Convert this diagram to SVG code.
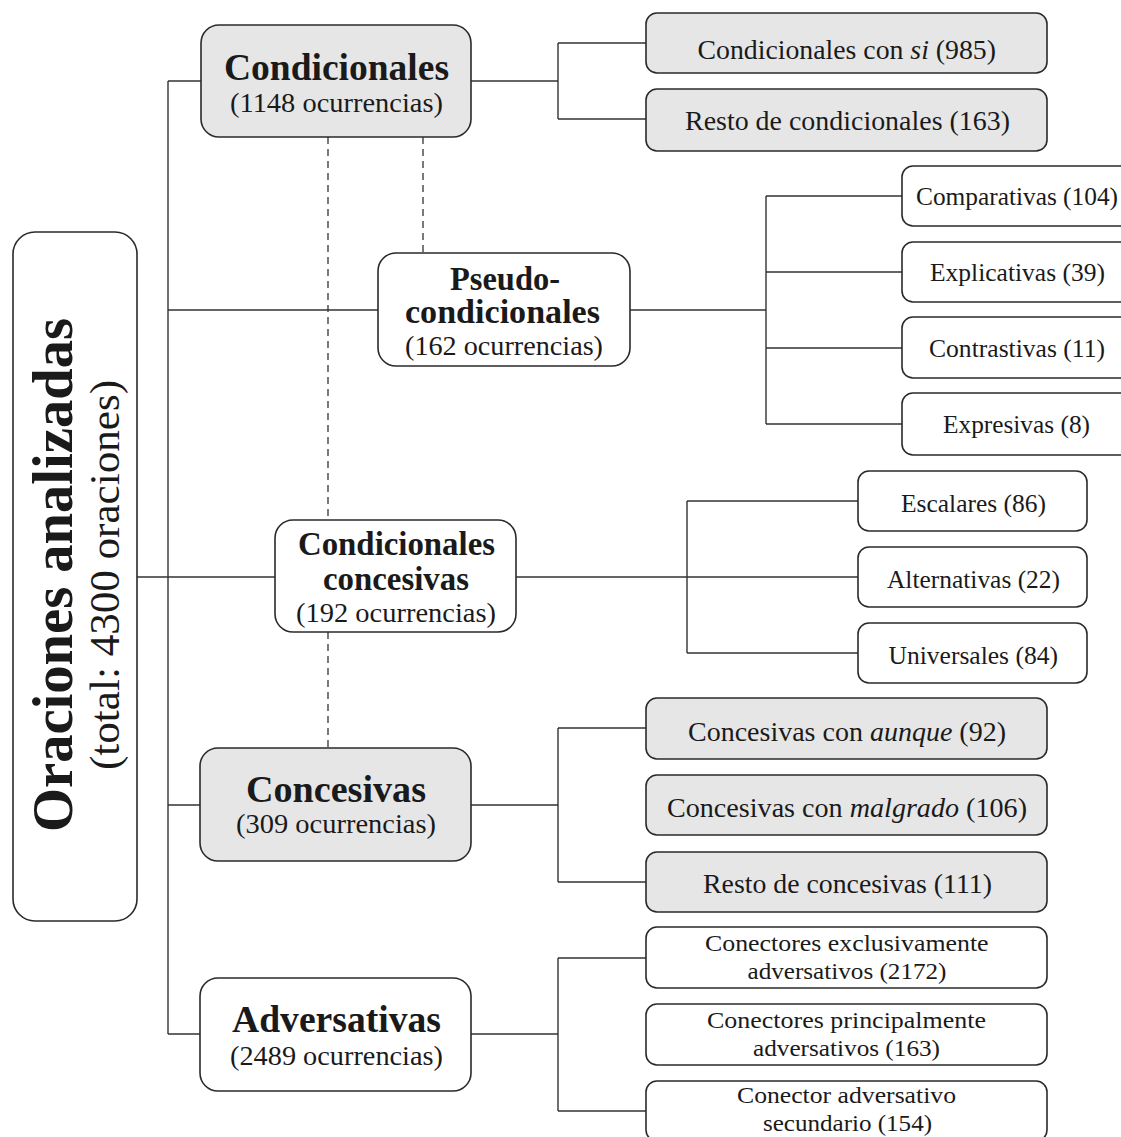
<svg xmlns="http://www.w3.org/2000/svg" width="1121" height="1137" viewBox="0 0 1121 1137">
<style>
.bx{stroke:#2a2a2a;stroke-width:1.6;fill:#fff}
.gr{fill:#e6e6e6}
.ln{stroke:#333;stroke-width:1.4;fill:none}
.ds{stroke:#333;stroke-width:1.3;fill:none;stroke-dasharray:7 5}
text{font-family:"Liberation Serif","Times New Roman",serif;fill:#1a1a1a}
.b{font-weight:bold}
.t1{font-size:37px}
.t2{font-size:33px}
.oc{font-size:28px}
.lg{font-size:28px}
.lw{font-size:25.5px}
.l2{font-size:24px}
.it{font-style:italic}
</style>
<rect width="1121" height="1137" fill="#fff"/>
<g id="connectors">
<path class="ln" d="M137 577H275M168 81V1034M168 81H201M168 310H378M168 805H200M168 1034H200"/>
<path class="ln" d="M471 81H558M558 43V119M558 43H646M558 119H646"/>
<path class="ln" d="M630 310H766M766 196V424M766 196H902M766 272H902M766 348H902M766 424H902"/>
<path class="ln" d="M516 577H858M687 501V653M687 501H858M687 653H858"/>
<path class="ln" d="M471 805H558M558 728V882M558 728H646M558 882H646"/>
<path class="ln" d="M471 1034H558M558 958V1111M558 958H646M558 1111H646"/>
<path class="ds" d="M328 137V520M328 632V748M423 137V253"/>
</g>
<g id="root">
<rect class="bx" x="13" y="232" width="124" height="689" rx="22"/>
<text class="b" font-size="57" transform="translate(72,832) rotate(-90)" textLength="514" lengthAdjust="spacingAndGlyphs">Oraciones analizadas</text>
<text font-size="42.5" transform="translate(119,770) rotate(-90)" textLength="390" lengthAdjust="spacingAndGlyphs">(total: 4300 oraciones)</text>
</g>
<g id="condicionales">
<rect class="bx gr" x="201" y="25" width="270" height="112" rx="18"/>
<text class="b t1" x="224" y="80" textLength="225" lengthAdjust="spacingAndGlyphs">Condicionales</text>
<text class="oc" x="230" y="112" textLength="213" lengthAdjust="spacingAndGlyphs">(1148 ocurrencias)</text>
</g>
<g id="pseudo">
<rect class="bx" x="378" y="253" width="252" height="113" rx="18"/>
<text class="b t2" x="450" y="290" textLength="110" lengthAdjust="spacingAndGlyphs">Pseudo-</text>
<text class="b t2" x="405" y="323" textLength="195" lengthAdjust="spacingAndGlyphs">condicionales</text>
<text class="oc" x="405" y="355" textLength="198" lengthAdjust="spacingAndGlyphs">(162 ocurrencias)</text>
</g>
<g id="cond-concesivas">
<rect class="bx" x="275" y="520" width="241" height="112" rx="18"/>
<text class="b t2" x="298" y="555" textLength="197" lengthAdjust="spacingAndGlyphs">Condicionales</text>
<text class="b t2" x="323" y="590" textLength="146" lengthAdjust="spacingAndGlyphs">concesivas</text>
<text class="oc" x="296" y="622" textLength="200" lengthAdjust="spacingAndGlyphs">(192 ocurrencias)</text>
</g>
<g id="concesivas">
<rect class="bx gr" x="200" y="748" width="271" height="113" rx="18"/>
<text class="b t1" x="246" y="802" textLength="180" lengthAdjust="spacingAndGlyphs">Concesivas</text>
<text class="oc" x="236" y="833" textLength="200" lengthAdjust="spacingAndGlyphs">(309 ocurrencias)</text>
</g>
<g id="adversativas">
<rect class="bx" x="200" y="978" width="271" height="113" rx="18"/>
<text class="b t1" x="232" y="1032" textLength="209" lengthAdjust="spacingAndGlyphs">Adversativas</text>
<text class="oc" x="230" y="1065" textLength="213" lengthAdjust="spacingAndGlyphs">(2489 ocurrencias)</text>
</g>
<g id="cond-si">
<rect class="bx gr" x="646" y="13" width="401" height="60" rx="11"/>
<text class="lg" x="697.5" y="59" textLength="298.5" lengthAdjust="spacingAndGlyphs">Condicionales con <tspan class="it">si</tspan> (985)</text>
</g>
<g id="cond-resto">
<rect class="bx gr" x="646" y="89" width="401" height="62" rx="11"/>
<text class="lg" x="685" y="130" textLength="325" lengthAdjust="spacingAndGlyphs">Resto de condicionales (163)</text>
</g>
<g id="comparativas">
<rect class="bx" x="902" y="166" width="232" height="60" rx="11"/>
<text class="lw" x="916" y="205" textLength="202" lengthAdjust="spacingAndGlyphs">Comparativas (104)</text>
</g>
<g id="explicativas">
<rect class="bx" x="902" y="242" width="232" height="60" rx="11"/>
<text class="lw" x="930" y="281" textLength="175" lengthAdjust="spacingAndGlyphs">Explicativas (39)</text>
</g>
<g id="contrastivas">
<rect class="bx" x="902" y="317" width="232" height="61" rx="11"/>
<text class="lw" x="929" y="357" textLength="176" lengthAdjust="spacingAndGlyphs">Contrastivas (11)</text>
</g>
<g id="expresivas">
<rect class="bx" x="902" y="393" width="232" height="62" rx="11"/>
<text class="lw" x="943" y="433" textLength="147" lengthAdjust="spacingAndGlyphs">Expresivas (8)</text>
</g>
<g id="escalares">
<rect class="bx" x="858" y="471" width="229" height="60" rx="11"/>
<text class="lw" x="901" y="512" textLength="145" lengthAdjust="spacingAndGlyphs">Escalares (86)</text>
</g>
<g id="alternativas">
<rect class="bx" x="858" y="547" width="229" height="60" rx="11"/>
<text class="lw" x="887" y="588" textLength="173" lengthAdjust="spacingAndGlyphs">Alternativas (22)</text>
</g>
<g id="universales">
<rect class="bx" x="858" y="623" width="229" height="60" rx="11"/>
<text class="lw" x="888.5" y="664" textLength="169.5" lengthAdjust="spacingAndGlyphs">Universales (84)</text>
</g>
<g id="conc-aunque">
<rect class="bx gr" x="646" y="698" width="401" height="61" rx="11"/>
<text class="lg" x="688" y="741" textLength="318" lengthAdjust="spacingAndGlyphs">Concesivas con <tspan class="it">aunque</tspan> (92)</text>
</g>
<g id="conc-malgrado">
<rect class="bx gr" x="646" y="775" width="401" height="60" rx="11"/>
<text class="lg" x="667" y="817" textLength="360" lengthAdjust="spacingAndGlyphs">Concesivas con <tspan class="it">malgrado</tspan> (106)</text>
</g>
<g id="conc-resto">
<rect class="bx gr" x="646" y="852" width="401" height="60" rx="11"/>
<text class="lg" x="703" y="893" textLength="289" lengthAdjust="spacingAndGlyphs">Resto de concesivas (111)</text>
</g>
<g id="adv-exclusivos">
<rect class="bx" x="646" y="927" width="401" height="61" rx="11"/>
<text class="l2" x="705" y="951" textLength="283.6" lengthAdjust="spacingAndGlyphs">Conectores exclusivamente</text>
<text class="l2" x="747.5" y="979" textLength="199" lengthAdjust="spacingAndGlyphs">adversativos (2172)</text>
</g>
<g id="adv-principales">
<rect class="bx" x="646" y="1004" width="401" height="61" rx="11"/>
<text class="l2" x="707" y="1028" textLength="279" lengthAdjust="spacingAndGlyphs">Conectores principalmente</text>
<text class="l2" x="753" y="1056" textLength="187" lengthAdjust="spacingAndGlyphs">adversativos (163)</text>
</g>
<g id="adv-secundario">
<rect class="bx" x="646" y="1081" width="401" height="60" rx="11"/>
<text class="l2" x="737" y="1103" textLength="219" lengthAdjust="spacingAndGlyphs">Conector adversativo</text>
<text class="l2" x="763" y="1131" textLength="169" lengthAdjust="spacingAndGlyphs">secundario (154)</text>
</g>
</svg>
